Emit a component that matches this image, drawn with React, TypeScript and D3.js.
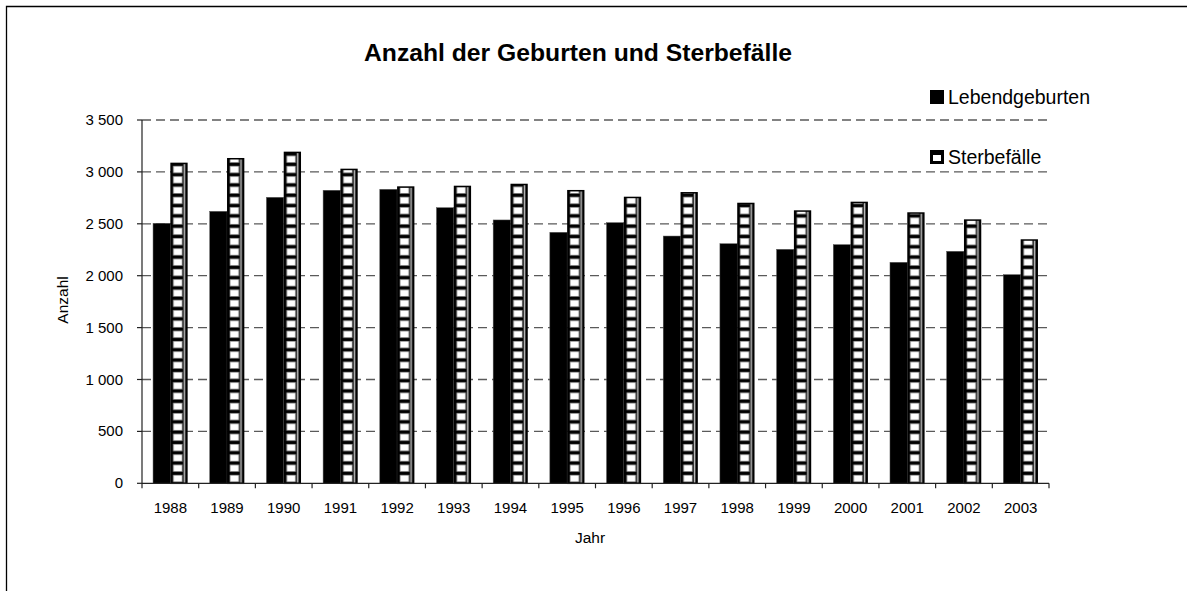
import React, { useEffect } from "react";
import * as d3 from "d3";

const years = ["1988","1989","1990","1991","1992","1993","1994","1995","1996","1997","1998","1999","2000","2001","2002","2003"];
const births = [2505, 2620, 2755, 2823, 2832, 2655, 2537, 2418, 2511, 2382, 2308, 2254, 2299, 2129, 2235, 2010];
const deaths = [3089, 3134, 3195, 3031, 2861, 2867, 2886, 2826, 2761, 2806, 2703, 2630, 2713, 2611, 2543, 2351];
const yTicks = [0, 500, 1000, 1500, 2000, 2500, 3000, 3500];
const seriesNames = ["Lebendgeburten", "Sterbefälle"];
const title = "Anzahl der Geburten und Sterbefälle";

const locale = d3.formatLocale({ thousands: " ", grouping: [3], decimal: ",", currency: ["", ""] });
const fmt = locale.format(",d");

export default function App() {
  const W = 1187, H = 591;
  const left = 142, right = 1049, top = 120, bottom = 483.3;
  const x = d3.scaleBand<string>().domain(years).range([left, right]).padding(0);
  const y = d3.scaleLinear().domain([0, 3500]).range([bottom, top]);
  const bw = 17.3;
  const font = "Arial, 'Liberation Sans', sans-serif";

  useEffect(() => {
    document.body.style.margin = "0";
    document.body.style.overflow = "hidden";
    document.documentElement.style.overflow = "hidden";
  }, []);

  return (
    <svg width={W} height={H} style={{ position: "fixed", left: 0, top: 0, background: "#fff", display: "block" }} fontFamily={font}>
      <defs>
        {years.map((yr, i) => {
          const cx = (x(yr) as number) + x.bandwidth() / 2;
          return (
            <pattern key={yr} id={`pat${i}`} patternUnits="userSpaceOnUse" x={cx} y={bottom} width={bw} height={10.3}>
              <rect width={bw} height={10.3} fill="#000" />
              <rect x={2.6} y={1.8} width={9.6} height={7.4} fill="#8a8a8a" />
              <rect x={3.4} y={2.6} width={8} height={5.8} fill="#fff" />
              <rect x={13.2} y={0} width={1.6} height={10.3} fill="#bdbdbd" />
            </pattern>
          );
        })}
        <pattern id="legpat" patternUnits="userSpaceOnUse" x={930} y={150} width={14} height={14}>
          <rect width={14} height={14} fill="#000" />
          <rect x={3} y={5} width={8} height={6} fill="#fff" />
        </pattern>
      </defs>
      <path d="M6.5,2000 V6.5 H2000" fill="none" stroke="#000" strokeWidth={1.3} />

      <text x={578} y={61} textAnchor="middle" fontWeight="bold" fontSize={24.7}>{title}</text>

      {/* gridlines */}
      {yTicks.filter(t => t > 0).map(t => (
        <line key={t} x1={left} x2={right} y1={y(t)} y2={y(t)} stroke="#5a5a5a" strokeWidth={1.3} strokeDasharray="9,5" />
      ))}

      {/* bars */}
      {years.map((yr, i) => {
        const cx = (x(yr) as number) + x.bandwidth() / 2;
        return (
          <g key={yr}>
            <rect x={cx - bw} y={y(births[i])} width={bw} height={bottom - y(births[i])} fill="#000" stroke="#555" strokeWidth={0.5} />
            <rect x={cx + 0.75} y={y(deaths[i]) + 0.75} width={bw - 1.5} height={bottom - y(deaths[i]) - 0.75} fill={`url(#pat${i})`} stroke="#000" strokeWidth={1.5} />
          </g>
        );
      })}

      {/* y axis */}
      <line x1={left} x2={left} y1={top} y2={bottom} stroke="#222" strokeWidth={1.2} />
      {yTicks.map(t => (
        <g key={t}>
          <line x1={left - 5} x2={left} y1={y(t)} y2={y(t)} stroke="#222" strokeWidth={1.2} />
          <text x={123} y={y(t) + 5} textAnchor="end" fontSize={15}>{fmt(t)}</text>
        </g>
      ))}
      {/* x axis */}
      <line x1={left} x2={right} y1={bottom} y2={bottom} stroke="#222" strokeWidth={1.2} />
      {[...years.map(yr => x(yr) as number), right].map((px, i) => (
        <line key={i} x1={px} x2={px} y1={bottom} y2={bottom + 5} stroke="#222" strokeWidth={1.2} />
      ))}
      {years.map(yr => (
        <text key={yr} x={(x(yr) as number) + x.bandwidth() / 2} y={513} textAnchor="middle" fontSize={15}>{yr}</text>
      ))}

      <text x={590} y={543} textAnchor="middle" fontSize={15.5}>Jahr</text>
      <text transform={`translate(68,300) rotate(-90)`} textAnchor="middle" fontSize={15.5}>Anzahl</text>

      {/* legend */}
      <rect x={930} y={90} width={14} height={14} fill="#000" />
      <text x={948} y={104} fontSize={19.5}>{seriesNames[0]}</text>
      <rect x={930} y={150} width={14} height={14} fill="url(#legpat)" />
      <text x={948} y={164} fontSize={19.5}>{seriesNames[1]}</text>
    </svg>
  );
}
